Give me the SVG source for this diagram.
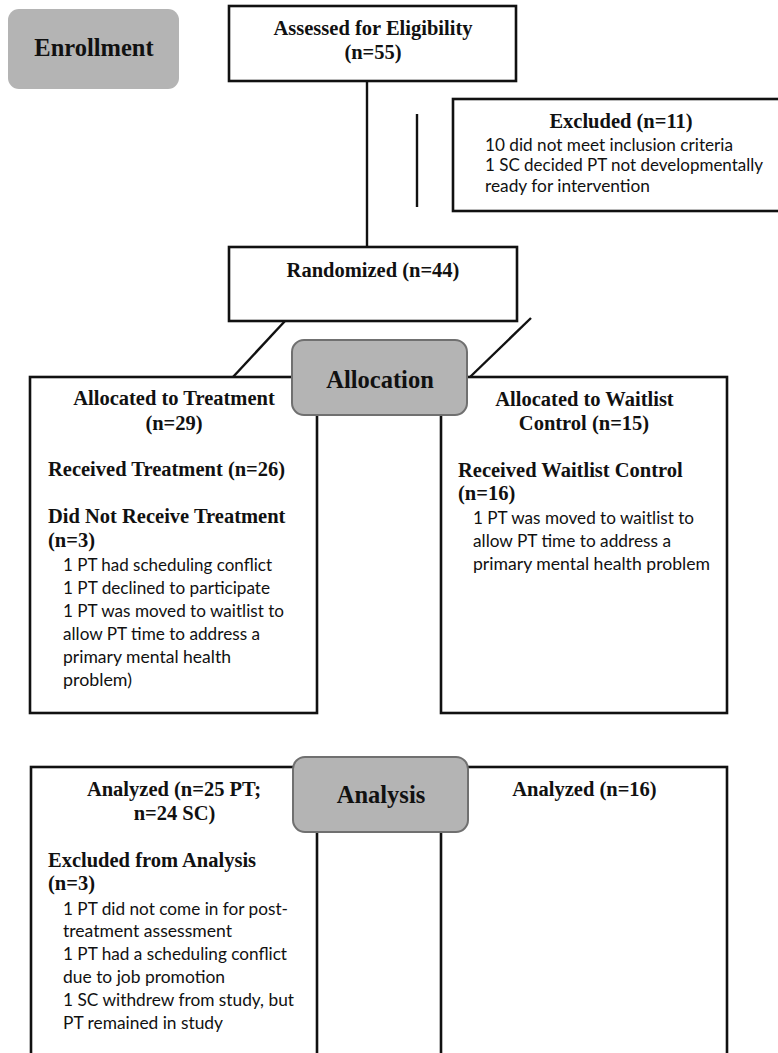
<svg xmlns="http://www.w3.org/2000/svg" width="778" height="1053" viewBox="0 0 778 1053">
<style>
.box{fill:#fff;stroke:#111;stroke-width:2.6}
.stage{fill:#b4b4b4;stroke:#707070;stroke-width:2}
.stage0{fill:#b4b4b4;stroke:none}
.conn{stroke:#111;stroke-width:2.4;fill:none}
.h{font-family:"Liberation Serif",serif;font-weight:bold;font-size:20.5px;fill:#111}
.hc{font-family:"Liberation Serif",serif;font-weight:bold;font-size:20.5px;fill:#111;text-anchor:middle}
.st{font-family:"Liberation Serif",serif;font-weight:bold;font-size:24.5px;fill:#111;text-anchor:middle}
.b{font-family:Lato,"Open Sans",sans-serif;font-size:16.5px;fill:#111}
</style>
<rect width="778" height="1053" fill="#fff"/>
<g id="connectors">
<line class="conn" x1="367" y1="81" x2="367" y2="247"/>
<line class="conn" x1="417" y1="114" x2="417" y2="207"/>
<line class="conn" x1="285" y1="321" x2="233" y2="377"/>
<line class="conn" x1="531" y1="318" x2="470" y2="377"/>
</g>
<g id="enrollment">
<rect class="stage0" x="8" y="9" width="171" height="80" rx="11"/>
<text class="st" x="94" y="56">Enrollment</text>
</g>
<g id="assessed">
<rect class="box" x="229" y="6" width="287" height="75"/>
<text class="hc" x="373" y="35">Assessed for Eligibility</text>
<text class="hc" x="373" y="59">(n=55)</text>
</g>
<g id="excluded">
<rect class="box" x="453" y="99" width="330" height="112"/>
<text class="hc" x="621" y="128">Excluded (n=11)</text>
<text class="b" x="485" y="151" textLength="248" lengthAdjust="spacingAndGlyphs">10 did not meet inclusion criteria</text>
<text class="b" x="485" y="171" textLength="278" lengthAdjust="spacingAndGlyphs">1 SC decided PT not developmentally</text>
<text class="b" x="485" y="192" textLength="165" lengthAdjust="spacingAndGlyphs">ready for intervention</text>
</g>
<g id="randomized">
<rect class="box" x="229" y="247" width="288" height="74"/>
<text class="hc" x="373" y="277">Randomized (n=44)</text>
</g>
<g id="alloc-treatment">
<rect class="box" x="30" y="377" width="287" height="336"/>
<text class="hc" x="174" y="405">Allocated to Treatment</text>
<text class="hc" x="174" y="430">(n=29)</text>
<text class="h" x="48" y="476">Received Treatment (n=26)</text>
<text class="h" x="48" y="523">Did Not Receive Treatment</text>
<text class="h" x="48" y="547">(n=3)</text>
<text class="b" x="63" y="570.5" textLength="209" lengthAdjust="spacingAndGlyphs">1 PT had scheduling conflict</text>
<text class="b" x="63" y="593.6" textLength="207" lengthAdjust="spacingAndGlyphs">1 PT declined to participate</text>
<text class="b" x="63" y="616.7" textLength="221" lengthAdjust="spacingAndGlyphs">1 PT was moved to waitlist to</text>
<text class="b" x="63" y="639.8" textLength="197" lengthAdjust="spacingAndGlyphs">allow PT time to address a</text>
<text class="b" x="63" y="662.9" textLength="168" lengthAdjust="spacingAndGlyphs">primary mental health</text>
<text class="b" x="63" y="686" textLength="69" lengthAdjust="spacingAndGlyphs">problem)</text>
</g>
<g id="alloc-waitlist">
<rect class="box" x="441" y="377" width="286" height="336"/>
<text class="hc" x="584.5" y="406">Allocated to Waitlist</text>
<text class="hc" x="584" y="430">Control (n=15)</text>
<text class="h" x="458" y="477">Received Waitlist Control</text>
<text class="h" x="458" y="500">(n=16)</text>
<text class="b" x="473" y="524" textLength="221" lengthAdjust="spacingAndGlyphs">1 PT was moved to waitlist to</text>
<text class="b" x="473" y="547" textLength="198" lengthAdjust="spacingAndGlyphs">allow PT time to address a</text>
<text class="b" x="473" y="569.5" textLength="237" lengthAdjust="spacingAndGlyphs">primary mental health problem</text>
</g>
<g id="allocation">
<rect class="stage" x="292" y="340" width="175" height="75" rx="12"/>
<text class="st" x="380" y="388">Allocation</text>
</g>
<g id="analyzed-treatment">
<rect class="box" x="31" y="767" width="286" height="300"/>
<text class="hc" x="174" y="796">Analyzed (n=25 PT;</text>
<text class="hc" x="174.5" y="820">n=24 SC)</text>
<text class="h" x="48" y="867">Excluded from Analysis</text>
<text class="h" x="48" y="890">(n=3)</text>
<text class="b" x="63" y="915" textLength="225" lengthAdjust="spacingAndGlyphs">1 PT did not come in for post-</text>
<text class="b" x="63" y="937" textLength="169" lengthAdjust="spacingAndGlyphs">treatment assessment</text>
<text class="b" x="63" y="960" textLength="224" lengthAdjust="spacingAndGlyphs">1 PT had a scheduling conflict</text>
<text class="b" x="63" y="983" textLength="162" lengthAdjust="spacingAndGlyphs">due to job promotion</text>
<text class="b" x="63" y="1006" textLength="231" lengthAdjust="spacingAndGlyphs">1 SC withdrew from study, but</text>
<text class="b" x="63" y="1029" textLength="160" lengthAdjust="spacingAndGlyphs">PT remained in study</text>
</g>
<g id="analyzed-waitlist">
<rect class="box" x="441" y="767" width="286" height="300"/>
<text class="hc" x="584.5" y="796">Analyzed (n=16)</text>
</g>
<g id="analysis">
<rect class="stage" x="293" y="757" width="175" height="75" rx="12"/>
<text class="st" x="381" y="803">Analysis</text>
</g>
</svg>
